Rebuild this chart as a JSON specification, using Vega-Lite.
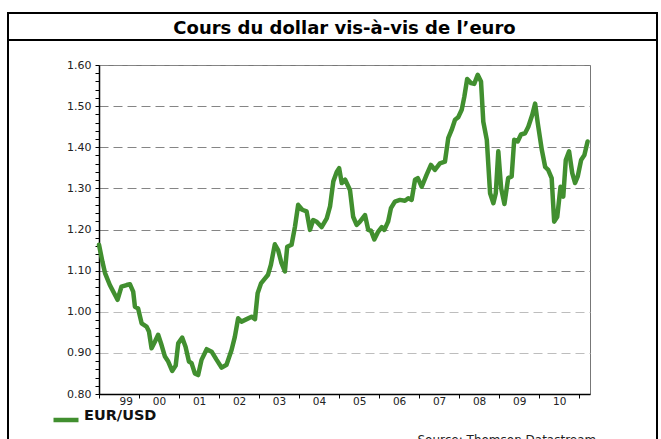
{
  "$schema": "https://vega.github.io/schema/vega-lite/v6.json",
  "width": 491,
  "height": 329,
  "autosize": {"type": "none"},
  "padding": {"left": 99, "top": 65, "right": 71, "bottom": 45},
  "background": "white",
  "config": {
    "view": {"stroke": "#777", "strokeWidth": 1},
    "axis": {"labelFont": "DejaVu Sans", "labelFontSize": 11, "labelColor": "#222", "domainColor": "#000", "domainWidth": 1.5, "tickColor": "#000", "tickSize": 4, "tickWidth": 1}
  },
  "title": {
    "text": "Cours du dollar vis-à-vis de l’euro",
    "anchor": "middle",
    "frame": "group",
    "font": "DejaVu Sans",
    "fontSize": 18,
    "fontWeight": "bold",
    "color": "#000",
    "offset": -26
  },
  "data": {
    "values": [
      {"date": "1999-01-01", "v": 1.163},
      {"date": "1999-02-01", "v": 1.122},
      {"date": "1999-02-25", "v": 1.094},
      {"date": "1999-04-10", "v": 1.065},
      {"date": "1999-06-19", "v": 1.029},
      {"date": "1999-07-25", "v": 1.061},
      {"date": "1999-09-10", "v": 1.065},
      {"date": "1999-10-10", "v": 1.067},
      {"date": "1999-11-09", "v": 1.049},
      {"date": "1999-11-25", "v": 1.012},
      {"date": "1999-12-24", "v": 1.008},
      {"date": "2000-01-25", "v": 0.972},
      {"date": "2000-03-10", "v": 0.964},
      {"date": "2000-04-01", "v": 0.952},
      {"date": "2000-04-25", "v": 0.911},
      {"date": "2000-05-25", "v": 0.927},
      {"date": "2000-06-24", "v": 0.944},
      {"date": "2000-07-25", "v": 0.919},
      {"date": "2000-08-25", "v": 0.891},
      {"date": "2000-09-24", "v": 0.879},
      {"date": "2000-10-30", "v": 0.856},
      {"date": "2000-12-01", "v": 0.869},
      {"date": "2000-12-24", "v": 0.923},
      {"date": "2001-01-30", "v": 0.937},
      {"date": "2001-03-01", "v": 0.915},
      {"date": "2001-04-01", "v": 0.879},
      {"date": "2001-04-25", "v": 0.875},
      {"date": "2001-05-25", "v": 0.850},
      {"date": "2001-06-24", "v": 0.846},
      {"date": "2001-07-25", "v": 0.883},
      {"date": "2001-09-10", "v": 0.909},
      {"date": "2001-10-25", "v": 0.903},
      {"date": "2001-12-10", "v": 0.883},
      {"date": "2002-01-25", "v": 0.864},
      {"date": "2002-03-10", "v": 0.871},
      {"date": "2002-04-25", "v": 0.907},
      {"date": "2002-05-25", "v": 0.939},
      {"date": "2002-06-24", "v": 0.984},
      {"date": "2002-07-25", "v": 0.976},
      {"date": "2002-09-10", "v": 0.982},
      {"date": "2002-10-25", "v": 0.988},
      {"date": "2002-11-25", "v": 0.982},
      {"date": "2002-12-19", "v": 1.045},
      {"date": "2003-01-19", "v": 1.069},
      {"date": "2003-02-25", "v": 1.081},
      {"date": "2003-03-24", "v": 1.090},
      {"date": "2003-04-19", "v": 1.114},
      {"date": "2003-05-25", "v": 1.164},
      {"date": "2003-06-24", "v": 1.150},
      {"date": "2003-07-25", "v": 1.118},
      {"date": "2003-08-25", "v": 1.098},
      {"date": "2003-09-15", "v": 1.158},
      {"date": "2003-10-25", "v": 1.163},
      {"date": "2003-11-25", "v": 1.207},
      {"date": "2003-12-24", "v": 1.260},
      {"date": "2004-01-30", "v": 1.248},
      {"date": "2004-03-10", "v": 1.244},
      {"date": "2004-04-10", "v": 1.199},
      {"date": "2004-05-09", "v": 1.223},
      {"date": "2004-06-10", "v": 1.219},
      {"date": "2004-07-25", "v": 1.206},
      {"date": "2004-09-10", "v": 1.227},
      {"date": "2004-10-10", "v": 1.256},
      {"date": "2004-11-09", "v": 1.317},
      {"date": "2004-12-10", "v": 1.340},
      {"date": "2005-01-01", "v": 1.349},
      {"date": "2005-01-25", "v": 1.313},
      {"date": "2005-02-25", "v": 1.321},
      {"date": "2005-04-10", "v": 1.296},
      {"date": "2005-05-09", "v": 1.231},
      {"date": "2005-06-10", "v": 1.211},
      {"date": "2005-07-10", "v": 1.219},
      {"date": "2005-08-25", "v": 1.235},
      {"date": "2005-09-24", "v": 1.199},
      {"date": "2005-10-19", "v": 1.197},
      {"date": "2005-11-18", "v": 1.176},
      {"date": "2005-12-24", "v": 1.195},
      {"date": "2006-01-25", "v": 1.206},
      {"date": "2006-02-18", "v": 1.199},
      {"date": "2006-03-24", "v": 1.219},
      {"date": "2006-04-19", "v": 1.252},
      {"date": "2006-05-25", "v": 1.268},
      {"date": "2006-07-10", "v": 1.272},
      {"date": "2006-08-25", "v": 1.270},
      {"date": "2006-09-24", "v": 1.276},
      {"date": "2006-10-25", "v": 1.272},
      {"date": "2006-11-25", "v": 1.321},
      {"date": "2006-12-20", "v": 1.325},
      {"date": "2007-01-25", "v": 1.304},
      {"date": "2007-03-10", "v": 1.333},
      {"date": "2007-04-19", "v": 1.357},
      {"date": "2007-05-25", "v": 1.345},
      {"date": "2007-07-10", "v": 1.361},
      {"date": "2007-08-25", "v": 1.365},
      {"date": "2007-09-24", "v": 1.422},
      {"date": "2007-10-25", "v": 1.442},
      {"date": "2007-11-25", "v": 1.467},
      {"date": "2007-12-24", "v": 1.473},
      {"date": "2008-01-25", "v": 1.491},
      {"date": "2008-02-18", "v": 1.523},
      {"date": "2008-03-15", "v": 1.566},
      {"date": "2008-04-19", "v": 1.556},
      {"date": "2008-05-18", "v": 1.554},
      {"date": "2008-06-19", "v": 1.576},
      {"date": "2008-07-19", "v": 1.560},
      {"date": "2008-08-09", "v": 1.462},
      {"date": "2008-09-10", "v": 1.418},
      {"date": "2008-10-10", "v": 1.288},
      {"date": "2008-11-09", "v": 1.264},
      {"date": "2008-12-01", "v": 1.288},
      {"date": "2008-12-24", "v": 1.390},
      {"date": "2009-01-19", "v": 1.300},
      {"date": "2009-02-18", "v": 1.262},
      {"date": "2009-03-24", "v": 1.325},
      {"date": "2009-04-25", "v": 1.329},
      {"date": "2009-05-18", "v": 1.418},
      {"date": "2009-06-19", "v": 1.414},
      {"date": "2009-07-19", "v": 1.431},
      {"date": "2009-08-25", "v": 1.434},
      {"date": "2009-09-24", "v": 1.450},
      {"date": "2009-10-30", "v": 1.479},
      {"date": "2009-11-25", "v": 1.506},
      {"date": "2009-12-19", "v": 1.459},
      {"date": "2010-01-25", "v": 1.394},
      {"date": "2010-02-25", "v": 1.352},
      {"date": "2010-03-24", "v": 1.345},
      {"date": "2010-04-25", "v": 1.325},
      {"date": "2010-05-18", "v": 1.219},
      {"date": "2010-06-15", "v": 1.231},
      {"date": "2010-07-15", "v": 1.304},
      {"date": "2010-08-09", "v": 1.280},
      {"date": "2010-09-01", "v": 1.369},
      {"date": "2010-10-01", "v": 1.390},
      {"date": "2010-10-30", "v": 1.337},
      {"date": "2010-11-25", "v": 1.313},
      {"date": "2010-12-19", "v": 1.329},
      {"date": "2011-01-19", "v": 1.369},
      {"date": "2011-02-18", "v": 1.381},
      {"date": "2011-03-19", "v": 1.414}
    ]
  },
  "encoding": {
    "x": {
      "field": "date",
      "type": "temporal",
      "scale": {
        "type": "utc",
        "domain": [
          {"year": 1999, "month": 1, "date": 1, "utc": true},
          {"year": 2011, "month": 4, "date": 10, "utc": true}
        ]
      },
      "axis": {
        "title": "Source: Thomson Datastream",
        "titleX": 318,
        "titleY": 49,
        "titleAlign": "left",
        "titleBaseline": "alphabetic",
        "titleFont": "DejaVu Sans",
        "titleFontSize": 12,
        "titleFontWeight": "normal",
        "titleColor": "#222",
        "grid": false,
        "values": [
          {"year": 1999, "month": 1, "date": 1, "utc": true},
          {"year": 2000, "month": 1, "date": 1, "utc": true},
          {"year": 2001, "month": 1, "date": 1, "utc": true},
          {"year": 2002, "month": 1, "date": 1, "utc": true},
          {"year": 2003, "month": 1, "date": 1, "utc": true},
          {"year": 2004, "month": 1, "date": 1, "utc": true},
          {"year": 2005, "month": 1, "date": 1, "utc": true},
          {"year": 2006, "month": 1, "date": 1, "utc": true},
          {"year": 2007, "month": 1, "date": 1, "utc": true},
          {"year": 2008, "month": 1, "date": 1, "utc": true},
          {"year": 2009, "month": 1, "date": 1, "utc": true},
          {"year": 2010, "month": 1, "date": 1, "utc": true},
          {"year": 2011, "month": 1, "date": 1, "utc": true}
        ],
        "labelExpr": "utcyear(datum.value) > 2010 ? '' : utcFormat(datum.value, '%y')",
        "labelOffset": 20,
        "labelPadding": -2,
        "labelFontSize": 10.5,
        "labelAngle": 0
      }
    },
    "y": {
      "field": "v",
      "type": "quantitative",
      "scale": {"domain": [0.8, 1.6], "nice": false, "zero": false},
      "axis": {
        "title": null,
        "values": [0.8,0.82,0.84,0.86,0.88,0.9,0.92,0.94,0.96,0.98,1.0,1.02,1.04,1.06,1.08,1.1,1.12,1.14,1.16,1.18,1.2,1.22,1.24,1.26,1.28,1.3,1.32,1.34,1.36,1.38,1.4,1.42,1.44,1.46,1.48,1.5,1.52,1.54,1.56,1.58,1.6],
        "labelExpr": "abs(datum.value*10 - round(datum.value*10)) < 0.001 ? format(datum.value, '.2f') : ''",
        "labelPadding": 4,
        "grid": true,
        "gridDash": [9, 5],
        "gridWidth": 1,
        "gridColor": {"condition": {"test": "datum.value < 1.05", "value": "#bdbdbd"}, "value": "#858585"},
        "gridOpacity": {"condition": {"test": "abs(datum.value*10 - round(datum.value*10)) < 0.001 && datum.value > 0.85", "value": 1}, "value": 0}
      }
    }
  },
  "layer": [
    {
      "mark": {"type": "rect", "fill": "transparent", "stroke": "#000", "strokeWidth": 1.5},
      "encoding": {
        "x": {"datum": {"year": 1996, "month": 9, "date": 22, "utc": true}, "type": "temporal"},
        "x2": {"datum": {"year": 2012, "month": 12, "date": 12, "utc": true}},
        "y": {"datum": 1.7264, "type": "quantitative"},
        "y2": {"datum": 1.6608}
      }
    },
    {
      "mark": {"type": "rect", "fill": "transparent", "stroke": "#000", "strokeWidth": 1.5},
      "encoding": {
        "x": {"datum": {"year": 1996, "month": 9, "date": 22, "utc": true}, "type": "temporal"},
        "x2": {"datum": {"year": 2012, "month": 12, "date": 12, "utc": true}},
        "y": {"datum": 1.6608, "type": "quantitative"},
        "y2": {"datum": 0.6395}
      }
    },
    {
      "mark": {"type": "line", "strokeWidth": 4.5, "strokeJoin": "round", "strokeCap": "round"},
      "encoding": {
        "color": {
          "datum": "EUR/USD",
          "type": "nominal",
          "scale": {"range": ["#418f2f"]},
          "legend": {
            "orient": "none",
            "legendX": -48,
            "legendY": 340,
            "title": null,
            "padding": 0,
            "symbolType": "stroke",
            "symbolSize": 625,
            "symbolStrokeWidth": 4.5,
            "labelFont": "DejaVu Sans",
            "labelFontWeight": "bold",
            "labelFontSize": 14.5,
            "labelColor": "#111",
            "labelBaseline": "alphabetic",
            "labelOffset": 3
          }
        }
      }
    }
  ]
}
